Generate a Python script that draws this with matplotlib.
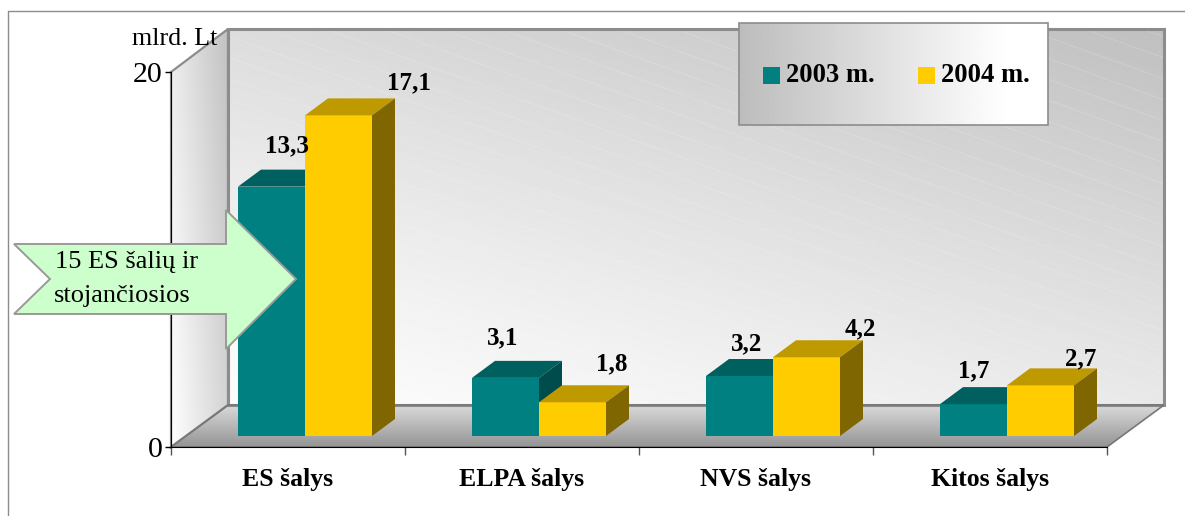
import numpy as np
import matplotlib
matplotlib.use('Agg')
import matplotlib.pyplot as plt
from matplotlib.patches import Polygon, Rectangle

plt.rcParams['font.family'] = ['Liberation Serif', 'DejaVu Serif']

categories = ['ES šalys', 'ELPA šalys', 'NVS šalys', 'Kitos šalys']
series_names = ['2003 m.', '2004 m.']
values_2003 = [13.3, 3.1, 3.2, 1.7]
values_2004 = [17.1, 1.8, 4.2, 2.7]
labels_2003 = ['13,3', '3,1', '3,2', '1,7']
labels_2004 = ['17,1', '1,8', '4,2', '2,7']
y_ticks = [0, 20]

# pixel scale of the picture: one category = 234 px, one unit = 18.75 px
PX_CAT = 234.0
PX_UNIT = 18.75
W, H = 1185, 516


def X(px):
    return (px - 171) / PX_CAT


def Y(py):
    return (447 - py) / PX_UNIT


def DX(px):
    return px / PX_CAT


def DY(px):
    return px / PX_UNIT


def poly(points, **kw):
    pts = [(X(a), Y(b)) for a, b in points]
    p = Polygon(pts, closed=True, **kw)
    ax.add_patch(p)
    return p


def gradient(points, func, zorder=0.5):
    # grey gradient clipped to a polygon, func(u, v) gives the grey level
    xs = [a for a, b in points]
    ys = [b for a, b in points]
    u, v = np.meshgrid(np.linspace(0, 1, 300), np.linspace(1, 0, 300))
    clip = poly(points, facecolor='none', edgecolor='none', zorder=zorder)
    im = ax.imshow(func(u, v), cmap='gray', vmin=0, vmax=1, aspect='auto',
                   interpolation='bilinear', zorder=zorder,
                   extent=(X(min(xs)), X(max(xs)), Y(max(ys)), Y(min(ys))))
    im.set_clip_path(clip)


fig = plt.figure(figsize=(W / 100, H / 100), dpi=100)
ax = fig.add_axes([0, 0, 1, 1])
ax.patch.set_alpha(0)

# outer frame, only top and left are inside the picture
ax.plot([X(8), X(8), X(W)], [Y(H), Y(11), Y(11)], color='#8c8c8c', lw=1.0, zorder=0.2)

# walls and floor
back = [(228, 29), (1164, 29), (1164, 405), (228, 405)]
side = [(171, 72), (228, 29), (228, 405), (171, 447)]
floor = [(171, 447), (228, 405), (1164, 405), (1107, 447)]
gradient(back, lambda u, v: 0.99 - 0.24 * (0.4 * u + 0.6 * v) ** 1.25)
gradient(side, lambda u, v: 1.0 - 0.24 * (0.7 * u + 0.3 * v))
gradient(floor, lambda u, v: 0.58 + 0.28 * v)

# faint stripes on the back wall
clip = poly(back, facecolor='none', edgecolor='none', zorder=0.6)
for y0 in np.arange(-300, 410, 21):
    ln, = ax.plot([X(228), X(1164)], [Y(y0), Y(y0 + 936 * 0.36)], color='white',
                  lw=0.5, alpha=0.22, zorder=0.6)
    ln.set_clip_path(clip)

poly(back, facecolor='none', edgecolor='#8c8c8c', lw=2.2, zorder=0.8)
poly(side, facecolor='none', edgecolor='#8c8c8c', lw=1.6, zorder=0.8)
poly(floor, facecolor='none', edgecolor='#777777', lw=1.2, zorder=0.8)

# bars with their depth faces
bar_w = DX(67)
off_x = DX(17)
off_y = DY(11)
dep_x = DX(23)
dep_y = DY(17)
series = [
    (values_2003, -1, '#008080', '#005f5f', '#004c4c'),
    (values_2004, 0, '#ffcc00', '#bf9900', '#806600'),
]
for vals, shift, front, top, right in series:
    for i, val in enumerate(vals):
        x0 = i + 0.5 + off_x + shift * bar_w
        x1 = x0 + bar_w
        y1 = off_y + val
        ax.bar(x0, val, width=bar_w, bottom=off_y, align='edge', color=front, zorder=3)
        ax.add_patch(Polygon([(x0, y1), (x1, y1), (x1 + dep_x, y1 + dep_y), (x0 + dep_x, y1 + dep_y)],
                             facecolor=top, edgecolor='none', zorder=3))
        ax.add_patch(Polygon([(x1, off_y), (x1 + dep_x, off_y + dep_y), (x1 + dep_x, y1 + dep_y), (x1, y1)],
                             facecolor=right, edgecolor='none', zorder=3))

# value labels, offsets from the top of the front face in px
dx_2003 = [15, -3, 7, 0]
dy_2003 = [41, 40, 32, 33]
dx_2004 = [70, 39, 54, 40]
dy_2004 = [33, 38, 28, 27]
for vals, labs, ddx, ddy, shift in [(values_2003, labels_2003, dx_2003, dy_2003, -0.5),
                                    (values_2004, labels_2004, dx_2004, dy_2004, 0.5)]:
    for i, val in enumerate(vals):
        ax.text(i + 0.5 + off_x + shift * bar_w + DX(ddx[i]), off_y + val + DY(ddy[i]), labs[i],
                ha='center', va='center', fontsize=18, fontweight='bold', color='black', zorder=5)

# axes
for name in ['top', 'right']:
    ax.spines[name].set_visible(False)
ax.spines['left'].set_position(('data', 0))
ax.spines['bottom'].set_position(('data', 0))
ax.spines['left'].set_bounds(0, 20)
ax.spines['bottom'].set_bounds(0, 4)
ax.set_yticks(y_ticks)
ax.set_yticklabels([str(t) for t in y_ticks], fontsize=21.5)
ax.set_xticks(range(5))
ax.set_xticklabels([])
ax.set_xticks(np.arange(4) + 0.5, minor=True)
ax.set_xticklabels(categories, minor=True, fontsize=18.5, fontweight='bold')
ax.tick_params(axis='x', which='major', length=6, width=1, color='#555555')
ax.tick_params(axis='x', which='minor', length=0, pad=15)
ax.tick_params(axis='y', length=4, width=1, pad=2)

ax.text(X(132), Y(39), 'mlrd. Lt', fontsize=18.7, ha='left', va='center')

# legend box
leg = [(739, 23), (1048, 23), (1048, 125), (739, 125)]
gradient(leg, lambda u, v: 0.74 + 0.26 * np.clip(u * 1.15, 0, 1), zorder=1)
poly(leg, facecolor='none', edgecolor='#8c8c8c', lw=1.2, zorder=1.1)
for sx, col, name in [(763, '#008080', series_names[0]), (918, '#ffcc00', series_names[1])]:
    ax.add_patch(Rectangle((X(sx), Y(84)), DX(17), DY(17), facecolor=col, edgecolor='none', zorder=1.2))
    ax.text(X(sx + 23), Y(75), name, fontsize=19.2, fontweight='bold', ha='left', va='center', zorder=1.2)

# arrow callout
poly([(14, 244), (226, 244), (226, 210), (296, 279), (226, 349), (226, 314), (14, 314), (50, 279)],
     facecolor='#ccffcc', edgecolor='#999999', lw=1.4, zorder=6)
ax.text(X(55), Y(262), '15 ES šalių ir', fontsize=19, ha='left', va='center', zorder=7)
ax.text(X(54), Y(296), 'stojančiosios', fontsize=19, ha='left', va='center', zorder=7)

ax.set_xlim(X(0), X(W))
ax.set_ylim(Y(H), Y(0))
fig.savefig('out.png', dpi=100, facecolor='white')
